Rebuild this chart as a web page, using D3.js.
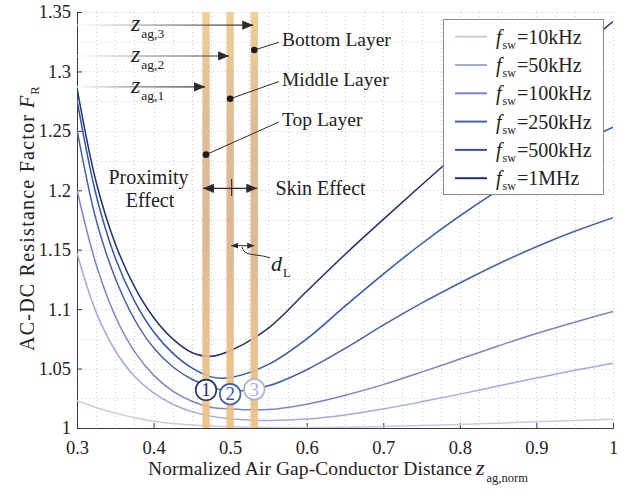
<!DOCTYPE html>
<html>
<head>
<meta charset="utf-8">
<script src="https://cdn.jsdelivr.net/npm/d3@7"></script>
<style>
  body { margin: 0; background: #fff; }
  svg { display: block; }
  text { font-family: "Liberation Serif", "DejaVu Serif", serif; fill: #222; }
</style>
</head>
<body>
<svg id="chart" width="629" height="491"></svg>
<script>
// Normalized air gap-conductor distance samples
const zNorm = [0.3, 0.325, 0.35, 0.375, 0.4, 0.425, 0.45, 0.475, 0.5, 0.55, 0.6, 0.65, 0.7, 0.75, 0.8, 0.85, 0.9, 0.95, 1.0];

// AC-DC resistance factor F_R for each switching frequency
const fr10k  = [1.023, 1.0172, 1.0125, 1.0087, 1.0057, 1.0037, 1.0025, 1.0016, 1.001, 1.0004, 1.0003, 1.0006, 1.0012, 1.002, 1.003, 1.0041, 1.0052, 1.0063, 1.0073];
const fr50k  = [1.147, 1.0975, 1.065, 1.0435, 1.0295, 1.020, 1.0138, 1.010, 1.0078, 1.0063, 1.0075, 1.011, 1.016, 1.022, 1.0285, 1.0353, 1.042, 1.0485, 1.0545];
const fr100k = [1.200, 1.1375, 1.094, 1.0645, 1.0445, 1.031, 1.0225, 1.0175, 1.016, 1.0155, 1.020, 1.0275, 1.0365, 1.047, 1.058, 1.069, 1.0795, 1.089, 1.098];
const fr250k = [1.251, 1.175, 1.126, 1.0915, 1.0675, 1.0515, 1.041, 1.0345, 1.031, 1.0355, 1.049, 1.067, 1.0865, 1.105, 1.122, 1.138, 1.1525, 1.1655, 1.177];
const fr500k = [1.276, 1.196, 1.143, 1.107, 1.081, 1.063, 1.0505, 1.043, 1.0425, 1.0535, 1.075, 1.1025, 1.1295, 1.155, 1.1785, 1.200, 1.2195, 1.2375, 1.253];
const fr1M   = [1.286, 1.207, 1.155, 1.119, 1.093, 1.075, 1.0635, 1.0603, 1.065, 1.084, 1.115, 1.146, 1.1755, 1.2045, 1.233, 1.261, 1.2885, 1.3155, 1.342];

const seriesLabels = ["10kHz", "50kHz", "100kHz", "250kHz", "500kHz", "1MHz"];
const seriesColors = ["#c8cae8", "#a3a9da", "#7a84c6", "#4660b4", "#2e56bb", "#232f72"];
const seriesValues = [fr10k, fr50k, fr100k, fr250k, fr500k, fr1M];

const xTicks = [0.3, 0.4, 0.5, 0.6, 0.7, 0.8, 0.9, 1];
const xTickLabels = ["0.3", "0.4", "0.5", "0.6", "0.7", "0.8", "0.9", "1"];
const yTicks = [1, 1.05, 1.1, 1.15, 1.2, 1.25, 1.3, 1.35];
const yTickLabels = ["1", "1.05", "1.1", "1.15", "1.2", "1.25", "1.3", "1.35"];

// Winding layer positions and the numbered markers on the 250 kHz curve
const layerZ = [0.4685, 0.5, 0.5315];
const layerNames = ["Top Layer", "Middle Layer", "Bottom Layer"];
const layerDotFR = [1.2300, 1.2770, 1.3180];
const layerLabelFR = [1.2575, 1.2915, 1.3245];
const zArrowFR = [1.2870, 1.3130, 1.3390];
const markerFR = [1.0320, 1.0285, 1.0325];
const markerColors = ["#232f72", "#3a58b6", "#a9aedc"];

const svg = d3.select("#chart");
const W = 629, H = 491;
const m = { left: 77, right: 16, top: 12, bottom: 63 };

const x = d3.scaleLinear().domain([0.3, 1]).range([m.left, W - m.right]);
const y = d3.scaleLinear().domain([1, 1.35]).range([H - m.bottom, m.top]);

const defs = svg.append("defs");

// Dotted grid every 0.025 in both directions
const grid = svg.append("g").attr("stroke", "#cfcfcf").attr("stroke-width", 1)
  .attr("stroke-dasharray", "1,3");
d3.range(0.325, 1.0001, 0.025).forEach(v => {
  grid.append("line").attr("x1", Math.round(x(v)) + 0.5).attr("x2", Math.round(x(v)) + 0.5)
    .attr("y1", y(1.35)).attr("y2", y(1));
});
d3.range(1.025, 1.3501, 0.025).forEach(v => {
  grid.append("line").attr("y1", Math.round(y(v)) + 0.5).attr("y2", Math.round(y(v)) + 0.5)
    .attr("x1", x(0.3)).attr("x2", x(1));
});

// Axes, ticks pointing into the plot
const xAxis = d3.axisBottom(x).tickValues(xTicks).tickSize(-5).tickPadding(13)
  .tickFormat((d, i) => xTickLabels[i]);
const yAxis = d3.axisLeft(y).tickValues(yTicks).tickSize(-5).tickPadding(6)
  .tickFormat((d, i) => yTickLabels[i]);

const gx = svg.append("g").attr("transform", `translate(0,${y(1)})`).call(xAxis);
const gy = svg.append("g").attr("transform", `translate(${x(0.3)},0)`).call(yAxis);
[gx, gy].forEach(g => {
  g.select(".domain").attr("stroke", "#3a3a3a");
  g.selectAll(".tick line").attr("stroke", "#3a3a3a");
  g.selectAll(".tick text").attr("font-family", "Liberation Serif, serif")
    .attr("font-size", 18.5).attr("fill", "#222");
});

// Curves
const clip = defs.append("clipPath").attr("id", "plotClip");
clip.append("rect").attr("x", x(0.3)).attr("y", y(1.35)).attr("width", x(1) - x(0.3)).attr("height", y(1) - y(1.35));

const line = d3.line().x(d => x(d[0])).y(d => y(d[1])).curve(d3.curveCatmullRom.alpha(0.5));
const curves = svg.append("g").attr("clip-path", "url(#plotClip)");
seriesValues.forEach((vals, i) => {
  curves.append("path")
    .datum(zNorm.map((z, k) => [z, vals[k]]))
    .attr("d", line).attr("fill", "none")
    .attr("stroke", seriesColors[i]).attr("stroke-width", 1.5);
});

// Layer bands
const bandGrad = defs.append("linearGradient").attr("id", "bandGrad")
  .attr("x1", 0).attr("x2", 0).attr("y1", 0).attr("y2", 1);
[["0%", "#f0cb8c"], ["25%", "#dfb68c"], ["55%", "#dcb28a"], ["80%", "#e8bd86"], ["100%", "#ecc183"]]
  .forEach(s => bandGrad.append("stop").attr("offset", s[0]).attr("stop-color", s[1]));
layerZ.forEach(z => {
  svg.append("rect").attr("x", x(z) - 3.7).attr("width", 7.4)
    .attr("y", y(1.35)).attr("height", y(1) - y(1.35))
    .attr("fill", "url(#bandGrad)").attr("opacity", 0.92);
});

// Arrow heads
function arrowHead(id, size) {
  defs.append("marker").attr("id", id).attr("viewBox", "0 -5 10 10")
    .attr("refX", 10).attr("refY", 0).attr("markerWidth", size).attr("markerHeight", size)
    .attr("markerUnits", "userSpaceOnUse").attr("orient", "auto-start-reverse")
    .append("path").attr("d", "M0,-4.2L10,0L0,4.2Z").attr("fill", "#2b2b2b");
}
arrowHead("head", 11);
arrowHead("headSmall", 7);

// z_ag arrows from the axis to each layer
layerZ.forEach((z, i) => {
  const gid = "fade" + i;
  const g = defs.append("linearGradient").attr("id", gid).attr("gradientUnits", "userSpaceOnUse")
    .attr("x1", x(0.3)).attr("x2", x(z)).attr("y1", 0).attr("y2", 0);
  g.append("stop").attr("offset", "0%").attr("stop-color", "#ffffff");
  g.append("stop").attr("offset", "45%").attr("stop-color", "#8a8a8a");
  g.append("stop").attr("offset", "100%").attr("stop-color", "#2b2b2b");
  svg.append("line").attr("x1", x(0.3)).attr("x2", x(z) - 1)
    .attr("y1", y(zArrowFR[i])).attr("y2", y(zArrowFR[i]) + 0.001)
    .attr("stroke", `url(#${gid})`).attr("stroke-width", 1.1)
    .attr("marker-end", "url(#head)");
  const t = svg.append("text").attr("x", 131).attr("y", y(zArrowFR[i]) + 6);
  t.append("tspan").text("z").attr("font-style", "italic").attr("font-size", 24);
  t.append("tspan").text("ag," + (i + 1)).attr("font-size", 13.5).attr("dy", 7).attr("dx", 1);
});

// Layer labels with leader lines
layerZ.forEach((z, i) => {
  const dx = x(z), dy = y(layerDotFR[i]);
  const ly = y(layerLabelFR[i]);
  svg.append("line").attr("x1", dx).attr("y1", dy).attr("x2", 279).attr("y2", ly)
    .attr("stroke", "#2b2b2b").attr("stroke-width", 1);
  svg.append("circle").attr("cx", dx).attr("cy", dy).attr("r", 3.3).attr("fill", "#1c1c1c");
  svg.append("text").attr("x", 282).attr("y", ly + 4).attr("font-size", 19.5).text(layerNames[i]);
});

// Proximity / skin effect annotation
svg.append("text").attr("x", 148.5).attr("y", 184).attr("text-anchor", "middle").attr("font-size", 20).text("Proximity");
svg.append("text").attr("x", 150).attr("y", 207).attr("text-anchor", "middle").attr("font-size", 20).text("Effect");
svg.append("text").attr("x", 320.5).attr("y", 195).attr("text-anchor", "middle").attr("font-size", 20).text("Skin Effect");
svg.append("line").attr("x1", x(layerZ[0]) - 3).attr("x2", x(layerZ[2]) + 3).attr("y1", 188.3).attr("y2", 188.3)
  .attr("stroke", "#2b2b2b").attr("stroke-width", 1.2)
  .attr("marker-start", "url(#head)").attr("marker-end", "url(#head)");
svg.append("line").attr("x1", x(layerZ[1]) + 1.5).attr("x2", x(layerZ[1]) + 1.5).attr("y1", 179).attr("y2", 196)
  .attr("stroke", "#2b2b2b").attr("stroke-width", 1.1);

// Layer pitch d_L
svg.append("line").attr("x1", x(layerZ[1]) + 1).attr("x2", x(layerZ[2])).attr("y1", 245.7).attr("y2", 245.7)
  .attr("stroke", "#2b2b2b").attr("stroke-width", 1)
  .attr("marker-start", "url(#headSmall)").attr("marker-end", "url(#headSmall)");
svg.append("path").attr("d", "M242,247 C244,254 249,254 256,255 C262,256 265,256 270,258")
  .attr("fill", "none").attr("stroke", "#2b2b2b").attr("stroke-width", 1);
const dl = svg.append("text").attr("x", 271).attr("y", 271);
dl.append("tspan").text("d").attr("font-style", "italic").attr("font-size", 22);
dl.append("tspan").text("L").attr("font-size", 12.5).attr("dy", 6).attr("dx", 1);

// Numbered markers
layerZ.forEach((z, i) => {
  svg.append("circle").attr("cx", x(z)).attr("cy", y(markerFR[i])).attr("r", 10.3)
    .attr("fill", "#fff").attr("stroke", markerColors[i]).attr("stroke-width", 1.6);
  svg.append("text").attr("x", x(z)).attr("y", y(markerFR[i]) + 6.3).attr("text-anchor", "middle")
    .attr("font-size", 19).style("fill", markerColors[i]).text(i + 1);
});

// Legend
const leg = svg.append("g");
leg.append("rect").attr("x", 443.5).attr("y", 19.5).attr("width", 160).attr("height", 175)
  .attr("fill", "#fff").attr("stroke", "#8c8c8c").attr("stroke-width", 1);
seriesLabels.forEach((lab, i) => {
  const ry = 36.7 + i * 28.3;
  leg.append("line").attr("x1", 455).attr("x2", 487).attr("y1", ry).attr("y2", ry)
    .attr("stroke", seriesColors[i]).attr("stroke-width", 2);
  const t = leg.append("text").attr("x", 496).attr("y", ry + 7).attr("font-size", 20);
  t.append("tspan").text("f").attr("font-style", "italic");
  t.append("tspan").text("sw").attr("font-size", 12).attr("dy", 5).attr("dx", 1);
  t.append("tspan").text("=" + lab).attr("dy", -5).attr("dx", 1);
});

// Axis titles
const xt = svg.append("text").attr("x", 148).attr("y", 475).attr("font-size", 19.5);
xt.append("tspan").text("Normalized Air Gap-Conductor Distance").attr("textLength", 324).attr("lengthAdjust", "spacing");
xt.append("tspan").text("z").attr("font-style", "italic").attr("font-size", 22).attr("x", 476);
xt.append("tspan").text("ag,norm").attr("font-size", 12.5).attr("dy", 7).attr("dx", 2);

const yt = svg.append("text").attr("transform", "translate(34,351) rotate(-90)").attr("font-size", 20);
yt.append("tspan").text("AC-DC Resistance Factor").attr("textLength", 236).attr("lengthAdjust", "spacing");
yt.append("tspan").text("F").attr("font-style", "italic").attr("x", 243);
yt.append("tspan").text("R").attr("font-size", 12.5).attr("dy", 5).attr("dx", 1);
</script>
</body>
</html>
